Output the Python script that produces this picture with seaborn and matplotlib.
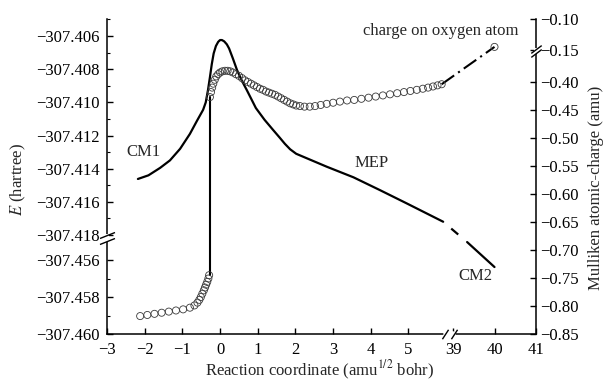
import numpy as np
import matplotlib
matplotlib.use("Agg")
import matplotlib.pyplot as plt
from matplotlib.ticker import FixedLocator, FuncFormatter
import seaborn as sns

# ---- data ----
mep_coord = [-2.18, -1.90, -1.59, -1.33, -1.06, -0.80, -0.61, -0.45, -0.38, -0.32,
             -0.27, -0.22, -0.17, -0.11, -0.05, 0.00, 0.05, 0.11, 0.18, 0.24,
             0.34, 0.45, 0.58, 0.71, 0.83, 0.95, 1.18, 1.41, 1.58, 1.72,
             1.86, 2.02, 2.30, 2.83, 3.54, 4.24, 4.95, 5.92]
mep_energy = [-307.41462, -307.41440, -307.41395, -307.41350, -307.41280, -307.41190,
              -307.41110, -307.41045, -307.41000, -307.40925, -307.40850, -307.40770,
              -307.40705, -307.40660, -307.40635, -307.40624, -307.40624, -307.40632,
              -307.40650, -307.40675, -307.40735, -307.40805, -307.40870, -307.40926,
              -307.40980, -307.41034, -307.41105, -307.41167, -307.41212, -307.41250,
              -307.41283, -307.41310, -307.41337, -307.41388, -307.41452, -307.41529,
              -307.41609, -307.41720]
mep_far_coord = [39.34, 40.0]
mep_far_energy = [-307.45503, -307.45638]

charge_low_coord = [-2.12, -1.93, -1.74, -1.55, -1.36, -1.17, -0.98, -0.80, -0.68, -0.60,
                    -0.55, -0.51, -0.47, -0.43, -0.40, -0.37, -0.34, -0.31, -0.29]
charge_low = [-0.818, -0.816, -0.814, -0.812, -0.810, -0.808, -0.806, -0.803, -0.799, -0.794,
              -0.789, -0.784, -0.778, -0.772, -0.767, -0.762, -0.757, -0.751, -0.745]

charge_high_coord = [-0.27, -0.24, -0.21, -0.18, -0.14, -0.10, -0.05, 0.00,
                     0.06, 0.13, 0.20, 0.27, 0.34, 0.42, 0.50, 0.58,
                     0.66, 0.74, 0.82, 0.90, 0.98, 1.06, 1.14, 1.22,
                     1.30, 1.38, 1.46, 1.54, 1.62, 1.70, 1.78, 1.86,
                     1.94, 2.02, 2.12, 2.24, 2.38, 2.52, 2.67, 2.83,
                     3.00, 3.18, 3.37, 3.56, 3.75, 3.94, 4.13, 4.32,
                     4.51, 4.70, 4.88, 5.05, 5.22, 5.38, 5.52, 5.65,
                     5.77, 5.88]
charge_high = [-0.427, -0.418, -0.410, -0.403, -0.396, -0.390, -0.386, -0.383,
               -0.381, -0.380, -0.380, -0.381, -0.383, -0.386, -0.389, -0.393,
               -0.397, -0.400, -0.403, -0.406, -0.409, -0.412, -0.414, -0.417,
               -0.419, -0.421, -0.423, -0.426, -0.429, -0.432, -0.435, -0.438,
               -0.440, -0.442, -0.443, -0.444, -0.444, -0.443, -0.441, -0.439,
               -0.437, -0.435, -0.433, -0.432, -0.430, -0.428, -0.426, -0.424,
               -0.422, -0.420, -0.418, -0.416, -0.414, -0.412, -0.410, -0.408,
               -0.406, -0.404]

jump_coord = [-0.28, -0.28]
jump_charge = [-0.745, -0.427]
charge_end_coord = [40.0]
charge_end = [-0.145]

x_ticks = [-3, -2, -1, 0, 1, 2, 3, 4, 5, 39, 40, 41]
e_ticks = [-307.406, -307.408, -307.410, -307.412, -307.414, -307.416, -307.418,
           -307.456, -307.458, -307.460]
e_minor = [-307.405, -307.407, -307.409, -307.411, -307.413, -307.415, -307.417,
           -307.457, -307.459]
q_ticks = [-0.10, -0.15, -0.40, -0.45, -0.50, -0.55, -0.60, -0.65, -0.70, -0.75, -0.80, -0.85]

# broken axes: piecewise linear scales (data knots -> pixel-like units)
x_knots, x_units = [-3, 5.95, 39, 41], [0, 337.3, 346, 429]
e_knots, e_units = [-307.460, -307.4550, -307.418, -307.40494], [0, 92.5, 99, 315.5]
q_knots, q_units = [-0.85, -0.35, -0.15, -0.0992], [0, 280, 284, 315.5]


def piecewise(knots, units):
    def fwd(v):
        return np.interp(v, knots, units)

    def inv(v):
        return np.interp(v, units, knots)
    return fwd, inv


def minus(fmt):
    return FuncFormatter(lambda v, p: format(v, fmt).replace("-", "\u2212"))


sns.set_theme(style="ticks")
plt.rcParams["font.family"] = ["Liberation Serif", "DejaVu Serif"]
plt.rcParams["mathtext.fontset"] = "stix"
plt.rcParams["lines.scale_dashes"] = False

W, H = 604, 380
fig = plt.figure(figsize=(W / 100, H / 100), dpi=100)
ax = fig.add_axes([107 / W, (H - 334) / H, 429 / W, 315.5 / H])
ax.set_xscale("function", functions=piecewise(x_knots, x_units))
ax.set_yscale("function", functions=piecewise(e_knots, e_units))
ax2 = ax.twinx()
ax2.set_yscale("function", functions=piecewise(q_knots, q_units))

# energy along the MEP
sns.lineplot(x=mep_coord, y=mep_energy, ax=ax, color="black", lw=1.6,
             sort=False, estimator=None)
sns.lineplot(x=[mep_coord[-1], mep_far_coord[0]], y=[mep_energy[-1], mep_far_energy[0]],
             ax=ax, color="black", lw=1.6, sort=False, estimator=None,
             linestyle=(19, (6.6, 20)))
sns.lineplot(x=mep_far_coord, y=mep_far_energy, ax=ax, color="black", lw=1.6,
             sort=False, estimator=None)

# Mulliken charge on O
sns.lineplot(x=jump_coord, y=jump_charge, ax=ax2, color="black", lw=1.5,
             sort=False, estimator=None)
sns.lineplot(x=[charge_high_coord[-1], charge_end_coord[0]], y=[charge_high[-1], charge_end[0]],
             ax=ax2, color="black", lw=1.5, sort=False, estimator=None,
             linestyle=(0, (11, 3.5, 1.5, 3.5)))
for xs, ys in [(charge_low_coord, charge_low), (charge_high_coord, charge_high),
               (charge_end_coord, charge_end)]:
    sns.scatterplot(x=xs, y=ys, ax=ax2, marker="o", s=26, facecolor="none",
                    edgecolor="#3a3a3a", linewidth=0.6, zorder=3)

ax.set_xlim(-3, 41)
ax.set_ylim(-307.460, -307.40494)
ax2.set_ylim(-0.85, -0.0992)

ax.xaxis.set_major_locator(FixedLocator(x_ticks))
ax.xaxis.set_minor_locator(FixedLocator([]))
ax.xaxis.set_major_formatter(minus("g"))
ax.yaxis.set_major_locator(FixedLocator(e_ticks))
ax.yaxis.set_minor_locator(FixedLocator(e_minor))
ax.yaxis.set_major_formatter(minus(".3f"))
ax2.yaxis.set_major_locator(FixedLocator(q_ticks))
ax2.yaxis.set_minor_locator(FixedLocator([]))
ax2.yaxis.set_major_formatter(minus(".2f"))

ax.tick_params(which="both", direction="in", colors="black", labelsize=12)
ax.tick_params(which="major", length=4, width=1)
ax.tick_params(which="minor", length=2.2, width=0.8)
ax.tick_params(axis="y", pad=5.5)
ax.tick_params(axis="x", pad=5.5)
ax2.tick_params(axis="y", direction="in", length=4, width=1, pad=3, labelsize=12, colors="black")

for s in ["top", "right"]:
    ax.spines[s].set_visible(False)
for s in ["top", "left", "bottom"]:
    ax2.spines[s].set_visible(False)
for a in (ax, ax2):
    for s in a.spines.values():
        s.set_color("black")
        s.set_linewidth(1.1)

# break marks on the axes
brk = dict(color="black", lw=0, mew=1, clip_on=False, zorder=10, transform=ax.transAxes)
ax.plot([0.790, 0.807], [0, 0], color="white", lw=4, clip_on=False, zorder=9,
        transform=ax.transAxes)
ax.plot([0.7879, 0.8089], [0, 0], marker=[(-0.65, -1), (0.65, 1)], ms=6.8, **brk)
ax.plot([0, 0], [0.2985, 0.3105], color="white", lw=3, clip_on=False, zorder=9,
        transform=ax.transAxes)
ax.plot([0, 0], [0.3138, 0.2948], marker=[(-1, -0.4), (1, 0.4)], ms=10.8, **brk)
ax2.plot([1, 1], [0.894, 0.900], color="white", lw=3, clip_on=False, zorder=9,
         transform=ax2.transAxes)
brk["transform"] = ax2.transAxes
ax2.plot([1, 1], [0.9033, 0.8906], marker=[(-1, -0.75), (1, 0.75)], ms=7.5, **brk)

# annotations
ax.text(0.0839, 0.5769, "CM1", transform=ax.transAxes, ha="center", va="center", fontsize=12)
ax.text(0.6166, 0.5420, "MEP", transform=ax.transAxes, ha="center", va="center", fontsize=12)
ax.text(0.8590, 0.1838, "CM2", transform=ax.transAxes, ha="center", va="center", fontsize=12)
ax.text(0.7786, 0.9604, "charge on oxygen atom", transform=ax.transAxes,
        ha="center", va="center", fontsize=12)

ax.set_xlabel(r"Reaction coordinate (amu$^{1/2}$ bohr)", fontsize=12)
ax.xaxis.set_label_coords(0.4965, -0.0770)
ax.set_ylabel(r"$E$ (hartree)", fontsize=12)
ax.yaxis.set_label_coords(-0.184, 0.491)
ax2.set_ylabel("Mulliken atomic-charge (amu)", fontsize=12)
ax2.yaxis.set_label_coords(1.1212, 0.4643)

fig.savefig("out.png", dpi=100)
